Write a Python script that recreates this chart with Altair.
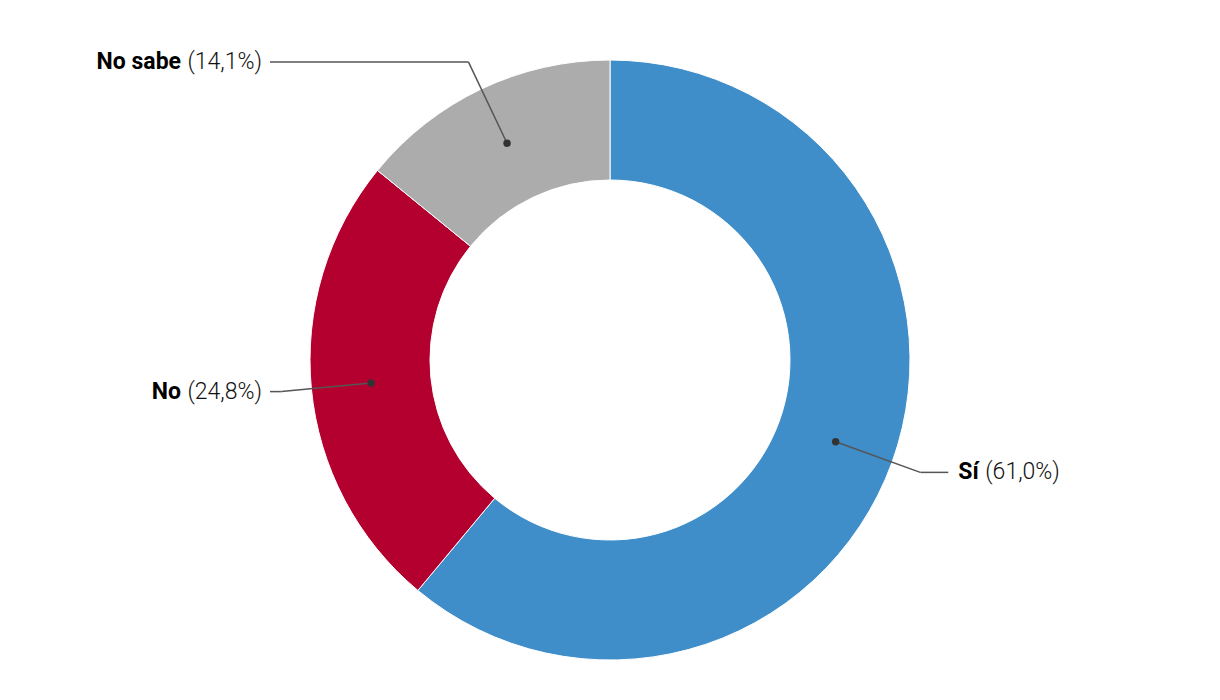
import altair as alt
import pandas as pd

categories = ["Sí", "No", "No sabe"]
values = [61.0, 24.8, 14.1]
pct_labels = ["(61,0%)", "(24,8%)", "(14,1%)"]
colors = ["#3f8ec9", "#b4002f", "#acacac"]

df = pd.DataFrame({
    "cat": categories,
    "value": values,
    "pct": pct_labels,
    "order": list(range(len(categories))),
})

CX, CY = 602, 352
FONT = "Roboto"
FS = 23

base = alt.Chart(df).transform_joinaggregate(
    total="sum(value)"
).transform_window(
    cum="sum(value)", sort=[{"field": "order"}], frame=[None, 0]
).transform_calculate(
    mid="(datum.cum - datum.value/2) / datum.total * 2 * PI",
).transform_calculate(
    dx=f"{CX} + 240 * sin(datum.mid)",
    dy=f"{CY} - 240 * cos(datum.mid)",
    ex=f"{CX} + 330 * sin(datum.mid)",
    ey=f"{CY} - 330 * cos(datum.mid)",
    right="sin(datum.mid) > 0",
).transform_calculate(
    lx="datum.right ? datum.ex + 28 : 262",
).transform_calculate(
    tx="datum.right ? datum.lx + 10 : datum.lx - 8",
).transform_calculate(
    name_x="datum.right ? datum.tx : datum.tx - 81",
    pct_x="datum.right ? datum.tx + length(datum.cat) * 10.5 + 6 : datum.tx",
)

arcs = alt.Chart(df).mark_arc(
    outerRadius=300, innerRadius=180, stroke="white", strokeWidth=1
).encode(
    theta=alt.Theta("value:Q", stack=True),
    color=alt.Color("cat:N", scale=alt.Scale(domain=categories, range=colors), legend=None),
    order=alt.Order("order:Q"),
    x=alt.value(CX),
    y=alt.value(CY),
)

seg1 = base.mark_rule(color="#555555", strokeWidth=1.5).encode(
    x=alt.X("dx:Q", scale=None), y=alt.Y("dy:Q", scale=None),
    x2="ex:Q", y2="ey:Q",
)
seg2 = base.mark_rule(color="#555555", strokeWidth=1.5).encode(
    x=alt.X("ex:Q", scale=None), y=alt.Y("ey:Q", scale=None),
    x2="lx:Q", y2="ey:Q",
)
dots = base.mark_circle(color="#333333", size=55, opacity=1).encode(
    x=alt.X("dx:Q", scale=None), y=alt.Y("dy:Q", scale=None),
)

name_r = base.transform_filter("datum.right").mark_text(
    font=FONT, fontSize=FS, fontWeight="bold", align="left", baseline="middle", color="#000000"
).encode(x=alt.X("name_x:Q", scale=None), y=alt.Y("ey:Q", scale=None), text="cat:N")
name_l = base.transform_filter("!datum.right").mark_text(
    font=FONT, fontSize=FS, fontWeight="bold", align="right", baseline="middle", color="#000000"
).encode(x=alt.X("name_x:Q", scale=None), y=alt.Y("ey:Q", scale=None), text="cat:N")
pct_r = base.transform_filter("datum.right").mark_text(
    font=FONT, fontSize=FS, fontWeight=300, align="left", baseline="middle", color="#111111"
).encode(x=alt.X("pct_x:Q", scale=None), y=alt.Y("ey:Q", scale=None), text="pct:N")
pct_l = base.transform_filter("!datum.right").mark_text(
    font=FONT, fontSize=FS, fontWeight=300, align="right", baseline="middle", color="#111111"
).encode(x=alt.X("pct_x:Q", scale=None), y=alt.Y("ey:Q", scale=None), text="pct:N")

chart = alt.layer(arcs, seg1, seg2, dots, name_r, name_l, pct_r, pct_l).properties(
    width=1204, height=684,
    autosize=alt.AutoSizeParams(type="none"),
    padding=0,
).configure_view(stroke=None)

chart.save("out.html", embed_options={"renderer": "svg", "actions": False})
